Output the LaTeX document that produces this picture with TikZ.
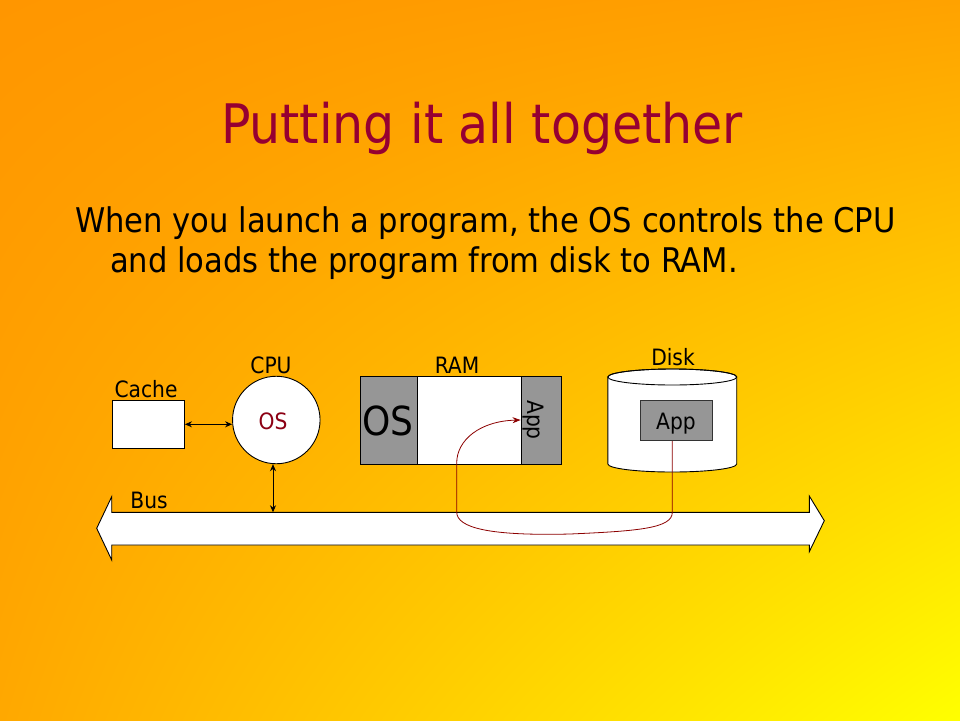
\documentclass[tikz,border=0pt]{standalone}
\usepackage{fontspec}
\setmainfont{DejaVu Sans Condensed}
\usetikzlibrary{arrows.meta,calc,shadings}
\definecolor{bgTL}{RGB}{255,150,0}
\definecolor{bgTR}{RGB}{255,162,0}
\definecolor{bgBL}{RGB}{255,168,0}
\definecolor{bgBR}{RGB}{255,255,0}
\definecolor{titlered}{RGB}{150,0,50}
\definecolor{partgray}{RGB}{150,150,150}
\definecolor{flowred}{RGB}{140,0,0}
\definecolor{osred}{RGB}{140,0,20}
\tikzset{
  lbl/.style={anchor=base, inner sep=0pt, font=\fontsize{22.5}{26}\selectfont},
  whitebox/.style={draw=black, line width=0.9pt, fill=white, inner sep=0pt},
  graybox/.style={draw=black, line width=0.9pt, fill=partgray, inner sep=0pt},
  link/.style={line width=0.9pt, {Stealth[length=7pt,width=6pt]}-{Stealth[length=7pt,width=6pt]}},
  flow/.style={draw=flowred, line width=0.8pt, -{Stealth[length=8pt,width=6pt]}},
  titlefont/.style={font=\fontsize{54.5}{62}\selectfont},
  bodyfont/.style={font=\fontsize{34}{40}\selectfont}
}
\begin{document}
\begin{tikzpicture}[x=1pt,y=-1pt]
\useasboundingbox (0,0) rectangle (960,720);
\shade[upper left=bgTL, upper right=bgTR, lower left=bgBL, lower right=bgBR] (0,0) rectangle (960,720);

% title
\node[titlefont, anchor=base, inner sep=0pt, text=titlered] (title) at (482,143)
  {Putting it all together};

% body text
\node[bodyfont, anchor=base west, inner sep=0pt] (line1) at (75,232)
  {When you launch a program, the OS controls the CPU};
\node[bodyfont, anchor=base west, inner sep=0pt] (line2) at (110,272)
  {and loads the program from disk to RAM.};

% bus
\draw[fill=white, line width=0.9pt, line join=miter]
  (96.7,528.3) -- (111.7,496.7) -- (111.7,512.3) -- (809.3,512.3) -- (809.3,496)
  -- (824.3,520.7) -- (809.3,551.7) -- (809.3,545) -- (111.7,545) -- (111.7,560) -- cycle;
\coordinate (bustop) at (460,512.3);
\node[lbl] (buslbl) at (149,508) {Bus};

% cache
\node[whitebox, minimum width=72pt, minimum height=48pt] (cache) at (148.5,424.3) {};
\node[lbl] (cachelbl) at (146,397) {Cache};

% CPU
\node[whitebox, circle, minimum size=87.5pt] (cpu) at (276.3,420) {};
\node[lbl, text=osred] (cpuos) at (273,429) {OS};
\node[lbl] (cpulbl) at (271,373) {CPU};

\draw[link] (cache.east) -- (cache.east -| cpu.west);
\draw[link] ([xshift=-3.3pt]cpu.south) -- ([xshift=-3.3pt]cpu.south |- bustop);

% RAM
\node[graybox, minimum width=57pt, minimum height=88pt] (ramos) at (388.5,420) {};
\node[whitebox, minimum width=104pt, minimum height=88pt] (ramfree) at (469,420) {};
\node[graybox, minimum width=40pt, minimum height=88pt] (ramapp) at (541,420) {};
\node[anchor=base, inner sep=0pt, font=\fontsize{40}{46}\selectfont] (bigos) at (388,435) {OS};
\node[inner sep=0pt, rotate=-90, font=\fontsize{22.5}{26}\selectfont] (ramapptext) at (533,420) {App};
\node[lbl] (ramlbl) at (457,373) {RAM};

% Disk
\draw[whitebox] (607.9,377) -- (607.9,464) arc[start angle=180, end angle=360, x radius=64.4pt, y radius=8pt]
  -- (736.7,377) arc[start angle=0, end angle=180, x radius=64.4pt, y radius=8pt] -- cycle;
\draw[line width=0.9pt] (672.3,377) ellipse[x radius=64.4pt, y radius=8pt];
\coordinate (disk) at (672.3,420);
\node[lbl] (disklbl) at (673,365) {Disk};
\node[graybox, draw=black!80, minimum width=72.7pt, minimum height=40.7pt] (diskapp) at (676.3,420.3) {};
\node[lbl] (diskapptext) at (676,429) {App};

% load path
\draw[flow] ([xshift=-4pt]diskapp.south) -- ([xshift=-4pt]diskapp.south |- bustop)
  .. controls (672.3,528) and (640,531) .. (570,534)
  .. controls (490,536) and (456.7,528) .. (456.7,512)
  -- (456.7,463)
  .. controls (456.7,440) and (480,421) .. (ramapp.west);
\end{tikzpicture}
\end{document}
